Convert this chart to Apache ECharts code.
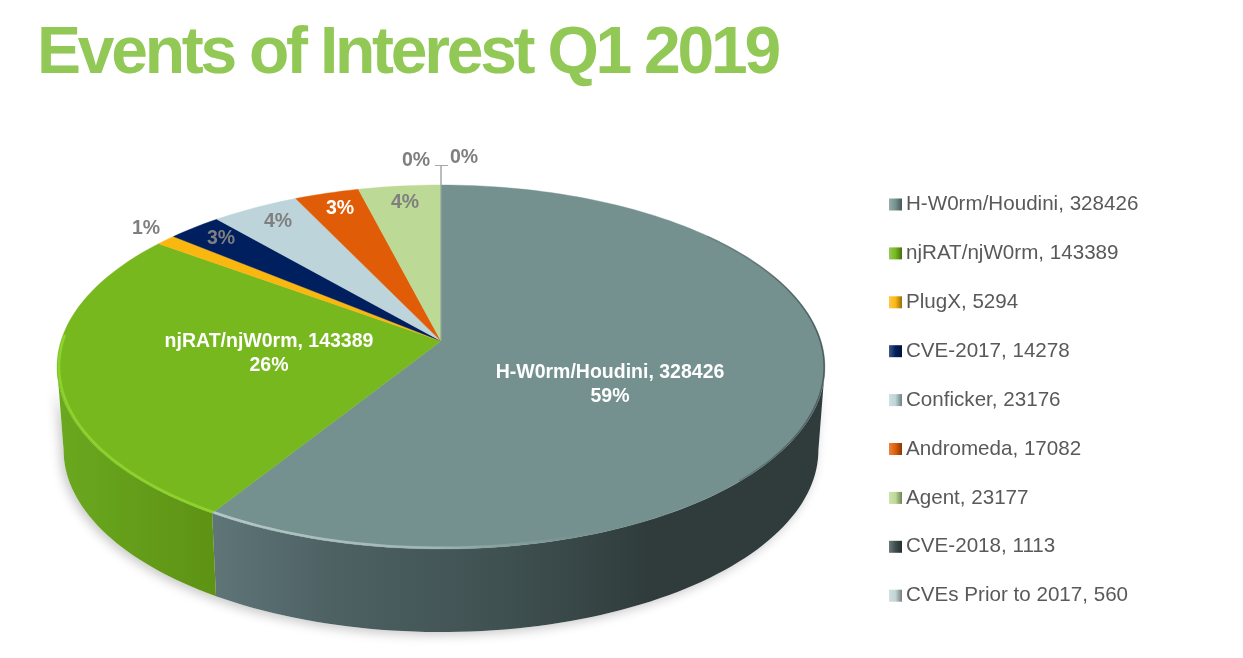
<!DOCTYPE html>
<html><head><meta charset="utf-8">
<style>html,body{margin:0;padding:0;background:#fff}#c{width:1243px;height:658px}</style>
<script src="https://cdn.jsdelivr.net/npm/echarts@6/dist/echarts.min.js"></script>
</head><body><div id="c"></div>
<script>
const titleText = 'Events of Interest Q1 2019';
const categories = ['H-W0rm/Houdini','njRAT/njW0rm','PlugX','CVE-2017','Conficker','Andromeda','Agent','CVE-2018','CVEs Prior to 2017'];
const values = [328426,143389,5294,14278,23176,17082,23177,1113,560];

const sliceColors = ['#749190','#76b81e','#fab710','#001f5f','#bcd4da','#e05c06','#bcd995','#3d4d4d','#c3d3d3'];
const labelLayout = [
  {x:610,y:385,fill:'#fff',full:true},{x:269,y:354,fill:'#fff',full:true},{x:146,y:229,fill:'#7f7f7f'},
  {x:221,y:239,fill:'#7f7f7f'},{x:278,y:222,fill:'#7f7f7f'},{x:340,y:209,fill:'#fff'},{x:405,y:203,fill:'#7f7f7f'},
  {x:416,y:161,fill:'#7f7f7f',lead:-6},{x:464,y:158,fill:'#7f7f7f',lead:7}
];
const total = values.reduce((a,b)=>a+b,0);
const starts = values.map((_,i)=>values.slice(0,i).reduce((a,b)=>a+b,0));

// the reference title is set with tight tracking, which the title component has no option for
const nativeFillText = CanvasRenderingContext2D.prototype.fillText;
CanvasRenderingContext2D.prototype.fillText = function(t,x,y,m){
  if(t===titleText){
    this.letterSpacing='-3.25px';
    m===undefined?nativeFillText.call(this,t,x,y):nativeFillText.call(this,t,x,y,m);
    this.letterSpacing='0px';
    return;
  }
  m===undefined?nativeFillText.call(this,t,x,y):nativeFillText.call(this,t,x,y,m);
};

// tilted-disc projection of the pie
const CX=441,CY=341,BX=380,AY=178.3,K=-0.1429,DEPTH=83,SHRINK=0.983;
const VIS0=98.2,VIS1=261.8;
function toDeg(share){
  const d=share/total*360;
  const w=d<=212.5?d*212/212.5:212+(d-212.5)*1.017;
  return Math.min(360,w);
}
function proj(deg,r){
  const t=deg*Math.PI/180,u=Math.sin(t)*(r==null?1:r),v=-Math.cos(t)*(r==null?1:r),q=1+K*v;
  return [CX+BX*u/q,CY+AY*v/q];
}
function low(p){return [CX+(p[0]-CX)*SHRINK,p[1]+DEPTH];}
function arc(a,b,r){
  const n=Math.max(1,Math.ceil(Math.abs(b-a)/1.5)),o=[];
  for(let i=0;i<=n;i++)o.push(proj(a+(b-a)*i/n,r));
  return o;
}
const G=(x0,x1,stops)=>new echarts.graphic.LinearGradient(x0,0,x1,0,stops.map(c=>({offset:c[0],color:c[1]})),true);
const wallFill=[
  G(212,820,[[0,'#5f7578'],[0.2,'#4d6163'],[0.5,'#3e4f4f'],[0.72,'#303c3c'],[1,'#303c3c']]),
  G(60,212,[[0,'#6aa81f'],[1,'#5e9314']])
];

function renderWall(params,api){
  const a=toDeg(api.value(1)),b=toDeg(api.value(1)+api.value(0));
  const s=Math.max(a,VIS0),e=Math.min(b,VIS1);
  if(e<=s)return {type:'group',children:[]};
  const topRim=arc(s,e),pts=topRim.concat(topRim.slice().reverse().map(low));
  const i=params.dataIndex;
  return {type:'group',children:[
    {type:'polygon',z2:0,shape:{points:pts},style:{fill:'#fff',shadowColor:'rgba(0,0,0,0.22)',shadowBlur:11,shadowOffsetX:-3,shadowOffsetY:3}},
    {type:'polygon',z2:1,shape:{points:pts},style:{fill:wallFill[i]||sliceColors[i]}}
  ]};
}

function renderTop(idx){
  return function(params,api){
    const v=api.value(0),st=api.value(1);
    const a=toDeg(st),b=toDeg(st+v);
    const rim=arc(a,b);
    const kids=[{type:'polygon',z2:1,shape:{points:[[CX,CY]].concat(rim)},
      style:{fill:sliceColors[idx],stroke:sliceColors[idx],lineWidth:0.4}}];
    if(idx===0){
      kids.push({type:'polyline',z2:2,shape:{points:arc(b,120,0.995)},style:{fill:null,lineWidth:2.5,
        stroke:G(212,620,[[0,'#b4c9c8'],[0.55,'#9fb6b5'],[1,'rgba(116,145,144,0)'] ])}});
      kids.push({type:'polyline',z2:2,shape:{points:arc(50,135,0.998)},style:{fill:null,lineWidth:1.5,
        stroke:G(620,825,[[0,'rgba(48,60,60,0)'],[0.6,'rgba(48,60,60,0.3)'],[1,'rgba(48,60,60,0.6)']])}});
    }
    if(idx===1){
      kids.push({type:'polyline',z2:2,shape:{points:arc(a,272,0.995)},style:{fill:null,lineWidth:2.5,stroke:'#8ed32b'}});
    }
    const L=labelLayout[idx],pct=Math.round(v/total*100)+'%';
    kids.push({type:'text',z2:5,x:L.x,y:L.y,style:{text:(L.full?categories[idx]+', '+v+'\n':'')+pct,
      fill:L.fill,font:'bold 19.5px "Liberation Sans", Arial, sans-serif',align:'center',verticalAlign:'middle',lineHeight:24}});
    if(L.lead){
      kids.push({type:'polyline',z2:4,shape:{points:[[CX,185],[CX,165.5],[CX+L.lead,165.5]]},style:{fill:null,stroke:'#a6a6a6',lineWidth:1}});
    }
    return {type:'group',children:kids};
  };
}

const names=categories.map((c,i)=>c+', '+values[i]);
const shade=(hex,f)=>{const n=parseInt(hex.slice(1),16),m=x=>Math.round(f<1?x*f:x+(255-x)*(f-1));
  return 'rgb('+m(n>>16&255)+','+m(n>>8&255)+','+m(n&255)+')';};

const series=[{
  type:'custom',name:'walls',coordinateSystem:'none',z:1,silent:true,
  data:values.map((v,i)=>[v,starts[i]]),renderItem:renderWall,animation:false
}].concat(values.map((v,i)=>({
  type:'custom',name:names[i],coordinateSystem:'none',z:2,animation:false,
  itemStyle:{color:sliceColors[i]},
  data:[[v,starts[i]]],renderItem:renderTop(i)
})));

const chart=echarts.init(document.getElementById('c'),null,{renderer:'canvas'});
chart.setOption({
  animation:false,backgroundColor:'#fff',
  title:{text:titleText,left:32,top:17,textStyle:{color:'#92c956',fontSize:66,fontWeight:'bold',fontFamily:'"Liberation Sans", Arial, sans-serif'}},
  legend:{orient:'vertical',left:884,top:189,itemWidth:13,itemHeight:12,itemGap:27.9,selectedMode:false,
    textStyle:{color:'#595959',fontSize:20.6,lineHeight:20,fontFamily:'"Liberation Sans", Arial, sans-serif',padding:[0,0,0,-1]},
    data:names.map((n,i)=>({name:n,icon:'rect',itemStyle:{color:new echarts.graphic.LinearGradient(0,0,1,0,[
      {offset:0,color:shade(sliceColors[i],1.25)},{offset:0.5,color:sliceColors[i]},{offset:1,color:shade(sliceColors[i],0.6)}])}}))},
  series
});
</script></body></html>
